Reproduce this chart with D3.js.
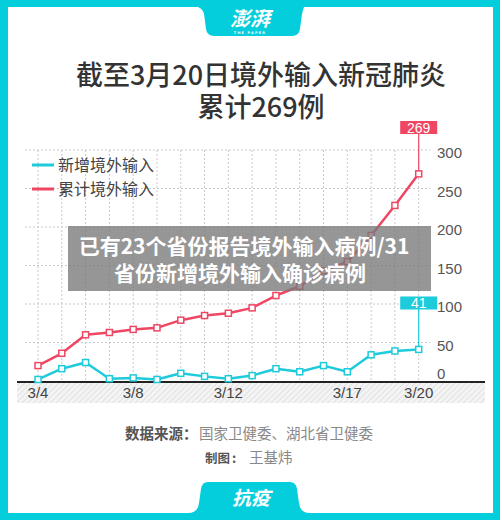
<!DOCTYPE html>
<html><head><meta charset="utf-8">
<script src="https://cdn.jsdelivr.net/npm/d3@7"></script>
<style>html,body{margin:0;padding:0;background:#fff;}svg{display:block;}</style>
</head><body>
<script>
const dates = ["3/4","3/5","3/6","3/7","3/8","3/9","3/10","3/11","3/12","3/13","3/14","3/15","3/16","3/17","3/18","3/19","3/20"];
const newCases = [2,16,24,3,4,2,10,6,3,7,16,12,20,12,34,39,41];
const cumulative = [20,36,60,63,67,69,79,85,88,95,111,123,143,155,189,228,269];
const xTickLabels = ["3/4","3/8","3/12","3/17","3/20"];
const yTicks = [0,50,100,150,200,250,300];
const seriesNames = ["新增境外输入","累计境外输入"];
const titleLines = ["截至3月20日境外输入新冠肺炎","累计269例"];
const overlayLines = ["已有23个省份报告境外输入病例/31","省份新增境外输入确诊病例"];

const W=500,H=520;
const CYAN_FRAME="#05CEDC", CYAN="#1DCBDA", RED="#EF4763";
const FONT="'Noto Sans CJK SC','Noto Sans',sans-serif";
const svg=d3.select("body").append("svg").attr("width",W).attr("height",H);
const defs=svg.append("defs");
const pat=defs.append("pattern").attr("id","hatch").attr("patternUnits","userSpaceOnUse").attr("width",4).attr("height",4).attr("patternTransform","rotate(45)");
pat.append("rect").attr("width",4).attr("height",4).attr("fill","#f4f4f4");
pat.append("line").attr("x1",0).attr("y1",0).attr("x2",0).attr("y2",4).attr("stroke","#d4d4d4").attr("stroke-width",1.2);

// frame
svg.append("rect").attr("width",W).attr("height",H).attr("fill",CYAN_FRAME);
svg.append("rect").attr("x",8).attr("y",7).attr("width",485).attr("height",506).attr("fill","#fff");
// top tab
svg.append("path").attr("fill",CYAN_FRAME)
 .attr("d","M198,7 L304,7 Q303,10 302,14 L300,29 Q299,36 292,36 L214,36 Q207,36 206,29 L204,14 Q203,9 198,7 Z");
svg.append("text").attr("x",250).attr("y",26).attr("text-anchor","middle").attr("fill","#fff")
 .style("font-family",FONT).style("font-weight",700).style("font-style","italic").style("font-size","20px").text("澎湃");
svg.append("text").attr("x",250).attr("y",33.5).attr("text-anchor","middle").attr("fill","#fff")
 .style("font-family","'DejaVu Sans',sans-serif").style("font-weight",700).style("font-size","3.5px").attr("letter-spacing",1.2).text("THE PAPER");
// bottom tab
svg.append("path").attr("fill",CYAN_FRAME)
 .attr("d","M188,513 Q198,513 199,503 L201,489 Q202,482 208,482 L290,482 Q296,482 297,489 L299,503 Q300,513 310,513 Z");
svg.append("text").attr("x",251).attr("y",505).attr("text-anchor","middle").attr("fill","#fff")
 .style("font-family",FONT).style("font-weight",700).style("font-style","italic").style("font-size","19px").text("抗疫");

// title
svg.append("g").selectAll("text").data(titleLines).join("text")
 .attr("x",261).attr("y",(d,i)=>85+i*32).attr("text-anchor","middle").attr("fill","#333")
 .style("font-family",FONT).style("font-weight",500).style("font-size","27px").text(d=>d);

// scales
const x=d3.scalePoint().domain(dates).range([38,418.7]);
const y=d3.scaleLinear().domain([0,300]).range([381,150]);

// hatched band + axis
svg.append("rect").attr("x",17).attr("y",382).attr("width",468).attr("height",21).attr("fill","url(#hatch)");
const g=svg.append("g");
// grid
g.selectAll(".hg").data(yTicks.filter(v=>v>0)).join("line")
 .attr("x1",25).attr("x2",430).attr("y1",d=>y(d)).attr("y2",d=>y(d))
 .attr("stroke","#c8c8c8").attr("stroke-width",1).attr("stroke-dasharray","2,2");
g.selectAll(".vg").data(dates).join("line")
 .attr("x1",d=>x(d)).attr("x2",d=>x(d)).attr("y1",y(300)).attr("y2",y(0))
 .attr("stroke","#c8c8c8").attr("stroke-width",1).attr("stroke-dasharray","2,2");
// y labels
g.selectAll(".yl").data(yTicks).join("text")
 .attr("x",437).attr("y",d=>d===0?y(d)-2:y(d)+8).attr("fill","#555")
 .style("font-family","'Liberation Sans',Arial,sans-serif").style("font-size","15px").text(d=>d);
// x axis line
svg.append("line").attr("x1",17).attr("x2",485).attr("y1",382).attr("y2",382).attr("stroke","#222").attr("stroke-width",2);
svg.append("g").selectAll("text").data(xTickLabels).join("text")
 .attr("x",d=>x(d)).attr("y",398).attr("text-anchor","middle").attr("fill","#444")
 .style("font-family","'Liberation Sans',Arial,sans-serif").style("font-size","15px").text(d=>d);

// lines
const line=d3.line().x((d,i)=>x(dates[i])).y(d=>y(d));
function series(vals,color){
  svg.append("path").datum(vals).attr("d",line).attr("fill","none").attr("stroke",color).attr("stroke-width",2.5).attr("stroke-linejoin","round");
  svg.append("g").selectAll("rect").data(vals).join("rect")
   .attr("x",(d,i)=>x(dates[i])-3).attr("y",d=>y(d)-3).attr("width",6).attr("height",6)
   .attr("fill","#fff").attr("stroke",color).attr("stroke-width",1.5);
}
// callouts
function callout(vals,color,boxY){
  const last=vals[vals.length-1], cx=x(dates[dates.length-1]);
  svg.append("line").attr("x1",cx).attr("x2",cx).attr("y1",boxY+12).attr("y2",y(last)).attr("stroke",color).attr("stroke-width",1.2);
  svg.append("rect").attr("x",cx-18.5).attr("y",boxY).attr("width",37).attr("height",13).attr("fill",color);
  svg.append("text").attr("x",cx).attr("y",boxY+11.5).attr("text-anchor","middle").attr("fill","#fff")
   .style("font-family","'Liberation Sans',Arial,sans-serif").style("font-size","14px").text(last);
}
callout(cumulative,RED,121);
callout(newCases,CYAN,296.5);
series(cumulative,RED);
series(newCases,CYAN);

// legend
const lg=svg.append("g");
[[CYAN,seriesNames[0],165],[RED,seriesNames[1],189]].forEach(([c,t,yy])=>{
  lg.append("line").attr("x1",32).attr("x2",54).attr("y1",yy).attr("y2",yy).attr("stroke",c).attr("stroke-width",3);
  lg.append("text").attr("x",58).attr("y",yy+5.5).attr("fill","#444").style("font-family",FONT).style("font-size","16px").text(t);
});

// overlay
svg.append("rect").attr("x",68).attr("y",226).attr("width",363).attr("height",65).attr("fill","rgb(120,120,120)").attr("fill-opacity",0.78);
svg.append("g").selectAll("text").data(overlayLines).join("text")
 .attr("x",(d,i)=>i===0?244:240).attr("y",(d,i)=>253.5+i*27).attr("text-anchor","middle").attr("fill","#fff")
 .style("font-family",FONT).style("font-weight",700).style("font-size","21px").text(d=>d);

// source
const SF="14.5px";
svg.append("text").attr("x",125).attr("y",439).attr("fill","#555").style("font-family",FONT).style("font-weight",700).style("font-size",SF).text("数据来源：");
svg.append("text").attr("x",199).attr("y",439).attr("fill","#888").style("font-family",FONT).style("font-size",SF).text("国家卫健委、湖北省卫健委");
svg.append("text").attr("x",205).attr("y",463).attr("fill","#555").style("font-family",FONT).style("font-weight",700).style("font-size","12.5px").text("制图");
svg.append("text").attr("x",232).attr("y",463).attr("fill","#555").style("font-family",FONT).style("font-weight",700).style("font-size","13px").text(":");
svg.append("text").attr("x",249).attr("y",463).attr("fill","#888").style("font-family",FONT).style("font-size",SF).text("王基炜");
</script>
</body></html>
